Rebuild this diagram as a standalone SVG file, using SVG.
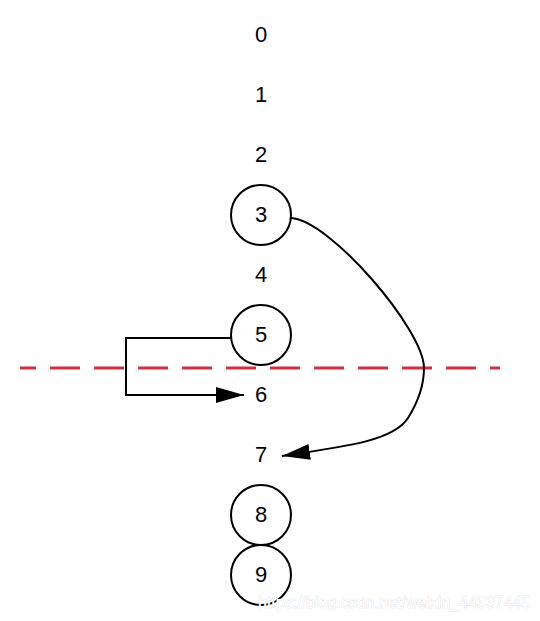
<svg xmlns="http://www.w3.org/2000/svg" width="540" height="621" viewBox="0 0 540 621">
<style>
.lbl{font-family:"Liberation Sans",Arial,sans-serif;font-size:22px;fill:#000;text-anchor:middle}
.c{fill:#fff;stroke:#000;stroke-width:2}
.e{fill:none;stroke:#000;stroke-width:2}
.wm{font-family:"Liberation Sans",Arial,sans-serif;font-size:16px;fill:#fff;stroke:#d8d8d8;stroke-width:0.6;paint-order:stroke}
</style>
<defs>
<marker id="arr" viewBox="0 0 28 16" refX="28" refY="8" markerWidth="28" markerHeight="16" orient="auto" markerUnits="userSpaceOnUse"><path d="M0,0 L28,8 L0,16 Z" fill="#000"/></marker>
</defs>
<rect width="540" height="621" fill="#fff"/>
<line x1="20" y1="368" x2="500" y2="368" stroke="#d0303c" stroke-width="3" stroke-dasharray="30,14" stroke-dashoffset="14"/>
<g id="connectors">
<path class="e" d="M231,338 H126 V395 H244" marker-end="url(#arr)"/>
<path class="e" d="M291,218 C330,220 424,330 424,368 C424,384 418,402 408,418 C394,440 350,446 282,456" marker-end="url(#arr)"/>
</g>
<g id="n0"><text class="lbl" x="261" y="42">0</text></g>
<g id="n1"><text class="lbl" x="261" y="102">1</text></g>
<g id="n2"><text class="lbl" x="261" y="162">2</text></g>
<g id="n3"><circle class="c" cx="261" cy="215" r="30"/><text class="lbl" x="261" y="222">3</text></g>
<g id="n4"><text class="lbl" x="261" y="282">4</text></g>
<g id="n5"><circle class="c" cx="261" cy="335" r="30" fill-opacity="0"/><text class="lbl" x="261" y="342">5</text></g>
<g id="n6"><text class="lbl" x="261" y="402">6</text></g>
<g id="n7"><text class="lbl" x="261" y="462">7</text></g>
<g id="n8"><circle class="c" cx="261" cy="515" r="30"/><text class="lbl" x="261" y="522">8</text></g>
<g id="n9"><circle class="c" cx="261" cy="575" r="30"/><text class="lbl" x="261" y="582">9</text></g>
<text class="wm" x="258" y="608">https://blog.csdn.net/weixin_44337445</text>
</svg>
